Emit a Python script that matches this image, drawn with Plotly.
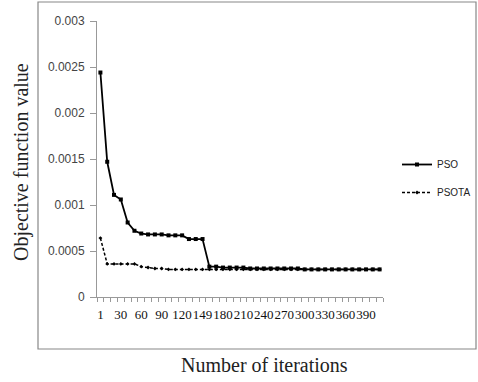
import plotly.graph_objects as go

# ---- data ----
iterations = [1, 10, 20, 30, 40, 50, 60, 70, 80, 90, 100, 110, 120, 130, 140, 149,
              160, 170, 180, 190, 200, 210, 220, 230, 240, 250, 260, 270, 280, 290,
              300, 310, 320, 330, 340, 350, 360, 370, 380, 390, 400, 410]
pso = [0.00244, 0.00147, 0.00111, 0.00106, 0.00081, 0.00072, 0.00069, 0.00068,
       0.00068, 0.00068, 0.00067, 0.00067, 0.00067, 0.00063, 0.00063, 0.00063,
       0.00033, 0.00033, 0.00032, 0.00032, 0.00032, 0.00032, 0.00031, 0.00031,
       0.00031, 0.00031, 0.00031, 0.00031, 0.00031, 0.00031, 0.00030, 0.00030,
       0.00030, 0.00030, 0.00030, 0.00030, 0.00030, 0.00030, 0.00030, 0.00030,
       0.00030, 0.00030]
psota = [0.00064, 0.00036, 0.00036, 0.00036, 0.00036, 0.00036, 0.00033, 0.00032,
         0.00031, 0.00031, 0.00030, 0.00030, 0.00030, 0.00030, 0.00030, 0.00030,
         0.00030, 0.00030, 0.00030, 0.00030, 0.00030, 0.00030, 0.00030, 0.00030,
         0.00030, 0.00030, 0.00030, 0.00030, 0.00030, 0.00030, 0.00030, 0.00030,
         0.00030, 0.00030, 0.00030, 0.00030, 0.00030, 0.00030, 0.00030, 0.00030,
         0.00030, 0.00030]
label_every = 3
y_ticks = [0, 0.0005, 0.001, 0.0015, 0.002, 0.0025, 0.003]
y_ticktext = ["0", "0.0005", "0.001", "0.0015", "0.002", "0.0025", "0.003"]

cats = [str(v) for v in iterations]
ticktext = [c if i % label_every == 0 else "" for i, c in enumerate(cats)]

fig = go.Figure()
fig.add_trace(go.Scatter(
    x=cats, y=pso, name="PSO", mode="lines+markers", legendgroup="a",
    line=dict(color="black", width=1.8),
    marker=dict(symbol="square", size=4, color="black")))
fig.add_trace(go.Scatter(
    x=cats, y=psota, name="PSOTA", mode="lines+markers", legendgroup="b",
    line=dict(color="black", width=1.5, dash="3px,2px"),
    marker=dict(symbol="diamond", size=3, color="black")))

L, R, T, B = 97, 95, 21, 85
W, H = 478, 382
pw, ph = W - L - R, H - T - B

def px_x(x):
    return (x - L) / pw

def px_y(y):
    return (H - B - y) / ph

fig.update_layout(
    width=W, height=H,
    margin=dict(l=L, r=R, t=T, b=B, pad=0, autoexpand=False),
    paper_bgcolor="white", plot_bgcolor="white",
    showlegend=True,
    legend=dict(x=px_x(397), y=px_y(150), xanchor="left", yanchor="top",
                font=dict(family="Liberation Sans", size=10, color="#222"),
                tracegroupgap=9, bgcolor="rgba(0,0,0,0)"),
    xaxis=dict(type="category", categoryorder="array", categoryarray=cats,
               tickmode="array", tickvals=cats, ticktext=ticktext,
               tickson="boundaries", ticks="outside", ticklen=4,
               tickcolor="#999", tickwidth=1,
               showline=True, linecolor="#999", linewidth=1,
               showgrid=False, zeroline=False, automargin=False,
               range=[-0.5, len(cats) - 0.5],
               tickangle=0, ticklabelstandoff=5,
               tickfont=dict(family="Liberation Serif", size=13, color="#111")),
    yaxis=dict(range=[0, 0.003], tickmode="array", tickvals=y_ticks,
               ticktext=y_ticktext, ticks="outside", ticklen=6,
               tickcolor="#999", showline=True, linecolor="#999", linewidth=1,
               showgrid=False, zeroline=False, ticklabelstandoff=3,
               automargin=False,
               tickfont=dict(family="Liberation Sans", size=12, color="#444")),
)

# chart border (outer frame)
fig.add_shape(type="rect", xref="paper", yref="paper",
              x0=px_x(38), x1=px_x(476), y0=px_y(349), y1=px_y(2),
              line=dict(color="#888", width=1.2), fillcolor="rgba(0,0,0,0)",
              layer="below")

fig.add_annotation(text="Objective function value", xref="paper", yref="paper",
                   x=px_x(21), y=px_y(162), showarrow=False, textangle=-90,
                   xanchor="center", yanchor="middle",
                   font=dict(family="Liberation Serif", size=20, color="#222"))
fig.add_annotation(text="Number of iterations", xref="paper", yref="paper",
                   x=px_x(264), y=px_y(365), showarrow=False,
                   xanchor="center", yanchor="middle",
                   font=dict(family="Liberation Serif", size=20, color="#222"))

fig.write_html("out.html")
